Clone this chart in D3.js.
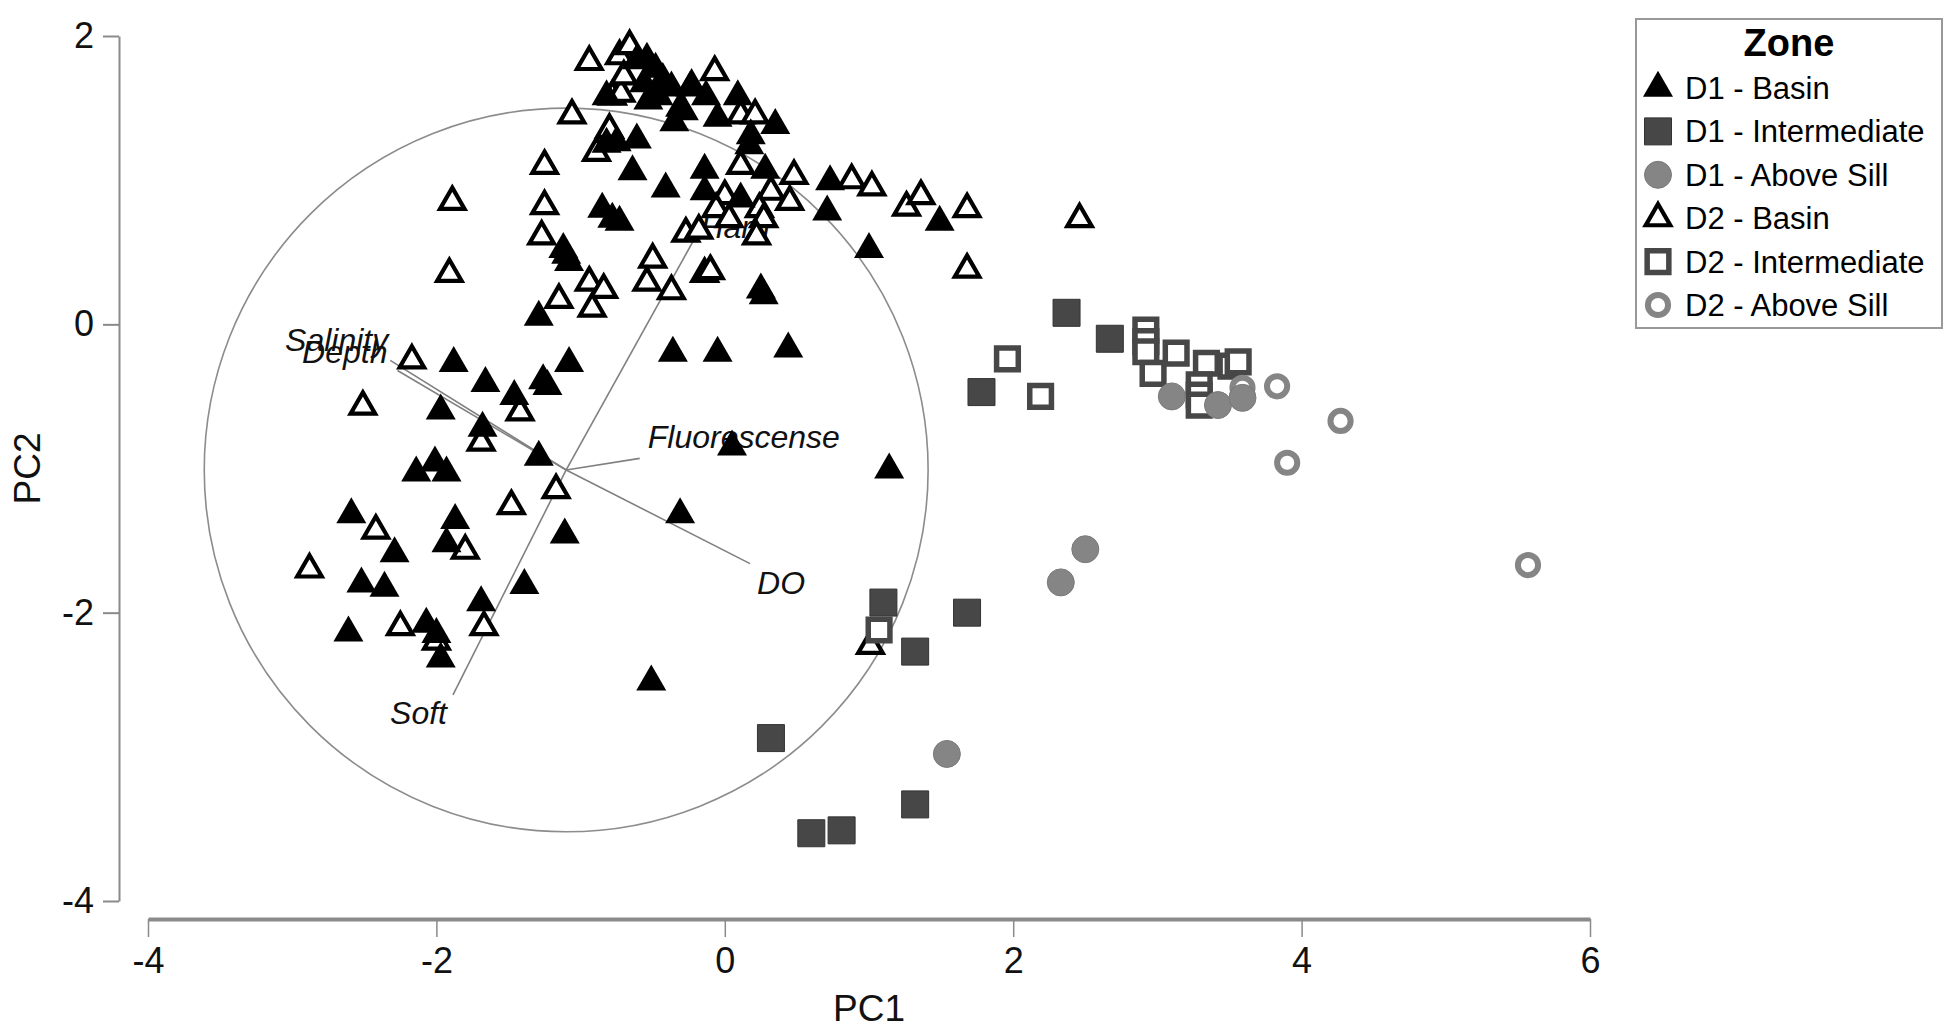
<!DOCTYPE html>
<html>
<head>
<meta charset="utf-8">
<script src="https://cdn.jsdelivr.net/npm/d3@7"></script>
<style>
  body { margin: 0; background: #fff; }
  text { font-family: "Liberation Sans", Arial, Helvetica, sans-serif; }
</style>
</head>
<body>
<div id="chart"></div>
<script>
// PCA scores, [PC1, PC2]
const d1Basin = [
  [-0.61, 1.83], [-0.54, 1.84], [-0.48, 1.77], [-0.43, 1.70], [-0.56, 1.67], [-0.46, 1.58], [-0.37, 1.64], [-0.53, 1.55],
  [-0.24, 1.64], [-0.31, 1.50], [-0.82, 1.58], [-0.82, 1.25],
  [-0.35, 1.40], [-0.13, 1.58], [-0.05, 1.43], [0.09, 1.58], [0.35, 1.38], [0.18, 1.31], [0.17, 1.24],
  [-0.75, 1.26], [-0.61, 1.28], [-0.64, 1.06], [-0.41, 0.94], [-0.14, 1.07], [-0.14, 0.92], [0.28, 1.07], [0.11, 0.87],
  [0.73, 0.99], [0.71, 0.78], [1.49, 0.71], [1.00, 0.52], [0.25, 0.24], [0.27, 0.20], [-0.05, -0.20], [-0.36, -0.20], [0.44, -0.17],
  [-0.85, 0.80], [-0.78, 0.73], [-0.73, 0.71], [-1.12, 0.52], [-1.10, 0.48], [-1.08, 0.43], [-1.29, 0.05],
  [-1.88, -0.27], [-1.66, -0.41], [-1.08, -0.27], [-1.23, -0.43], [-1.26, -0.39], [-1.46, -0.50], [-1.97, -0.60], [-1.68, -0.72],
  [-1.29, -0.92], [-2.01, -0.96], [-2.14, -1.03], [-1.93, -1.03], [-0.31, -1.32], [-2.59, -1.32], [-1.87, -1.36], [-1.93, -1.52],
  [-2.29, -1.59], [-1.11, -1.46], [-2.52, -1.80], [-2.36, -1.83], [-1.39, -1.81], [-2.61, -2.14], [-2.07, -2.08], [-2.00, -2.15],
  [-1.97, -2.32], [-1.69, -1.93], [-0.51, -2.48], [0.05, -0.85], [1.14, -1.01]
];
const d1Intermediate = [
  [2.37, 0.08], [2.67, -0.10], [1.78, -0.47], [1.10, -1.93], [1.32, -2.27], [1.68, -2.00],
  [0.32, -2.87], [1.32, -3.33], [0.60, -3.53], [0.81, -3.51]
];
const d1AboveSill = [
  [3.10, -0.50], [3.42, -0.56], [3.59, -0.51], [2.50, -1.56], [2.33, -1.79], [1.54, -2.98]
];
const d2Basin = [
  [-0.94, 1.82], [-0.73, 1.86], [-0.66, 1.93], [-0.78, 1.58], [-0.72, 1.60], [-0.70, 1.72], [-0.07, 1.75], [-0.23, 1.65], [-0.29, 1.48],
  [-1.06, 1.45], [-0.80, 1.35], [-0.89, 1.19], [-1.25, 1.10], [-1.89, 0.85], [-1.25, 0.82], [-1.27, 0.61],
  [-0.94, 0.29], [-0.84, 0.24], [-1.15, 0.17], [-0.92, 0.11], [-0.50, 0.45], [-0.54, 0.29], [-0.37, 0.23], [-0.27, 0.63], [-0.18, 0.65],
  [-0.14, 0.35], [-1.91, 0.35], [-2.17, -0.25], [-2.51, -0.57], [-1.42, -0.61],
  [0.11, 1.45], [0.21, 1.45], [0.11, 1.10], [0.48, 1.03], [0.88, 1.00], [1.02, 0.95], [0.00, 0.89], [-0.06, 0.80], [0.32, 0.92],
  [0.45, 0.85], [0.24, 0.80], [0.03, 0.73], [0.27, 0.73], [1.26, 0.81], [1.36, 0.89], [1.68, 0.80], [2.46, 0.73], [1.68, 0.38],
  [-0.10, 0.37], [0.22, 0.61],
  [-1.69, -0.82], [-1.17, -1.15], [-1.48, -1.26], [-2.42, -1.43], [-1.80, -1.57], [-2.88, -1.70], [-2.25, -2.10], [-2.00, -2.20],
  [-1.67, -2.10], [1.01, -2.23]
];
const d2Intermediate = [
  [1.96, -0.24], [2.19, -0.50], [2.92, -0.04], [2.92, -0.12], [2.92, -0.19], [2.97, -0.34], [3.13, -0.20], [3.34, -0.27],
  [3.51, -0.29], [3.56, -0.26], [3.29, -0.42], [3.29, -0.49], [3.29, -0.56], [1.07, -2.12]
];
const d2AboveSill = [
  [3.59, -0.44], [3.83, -0.43], [4.27, -0.67], [3.90, -0.96], [5.57, -1.67]
];

const zoneNames = ["D1 - Basin", "D1 - Intermediate", "D1 - Above Sill", "D2 - Basin", "D2 - Intermediate", "D2 - Above Sill"];

// environmental vectors (tips of the loading arrows) and the correlation circle
const vectorNames = ["Salinity", "Depth", "Fluorescense", "DO", "Soft", "Hard"];
const vectorPC1 = [-2.32, -2.27, -0.59, 0.175, -1.885, -0.19];
const vectorPC2 = [-0.25, -0.32, -0.93, -1.66, -2.57, 0.63];
const circleCenter = [-1.10, -1.01];
const circleRadius = 2.51;

const xTicks = [-4, -2, 0, 2, 4, 6];
const yTicks = [-4, -2, 0, 2];

const width = 1951, height = 1036;
const TEXT_COLOR = "#111";
const AXIS_COLOR = "#8a8a8a";

const svg = d3.select("#chart").append("svg")
  .attr("width", width)
  .attr("height", height)
  .style("background", "#fff");

const x = d3.scaleLinear().domain([-4, 6]).range([148, 1590]);
const y = d3.scaleLinear().domain([-4, 2]).range([901, 36]);

// plain hyphen for negatives, like the original figure
const fmt = d => String(d);

// y axis (offset to the left of the x axis start)
const yAxis = svg.append("g")
  .attr("transform", "translate(119,0)")
  .call(d3.axisLeft(y).tickValues(yTicks).tickSize(16).tickSizeOuter(0).tickPadding(9).tickFormat(fmt));
yAxis.select(".domain").attr("stroke", AXIS_COLOR).attr("stroke-width", 2);
yAxis.selectAll(".tick line").attr("stroke", AXIS_COLOR).attr("stroke-width", 2);
yAxis.selectAll(".tick text").attr("fill", TEXT_COLOR).style("font-size", "36px");

// x axis
const xAxis = svg.append("g")
  .attr("transform", "translate(0,919)")
  .call(d3.axisBottom(x).tickValues(xTicks).tickSize(18).tickSizeOuter(0).tickPadding(10).tickFormat(fmt));
xAxis.select(".domain").attr("stroke", AXIS_COLOR).attr("stroke-width", 4);
xAxis.selectAll(".tick line").attr("stroke", AXIS_COLOR).attr("stroke-width", 1.5);
xAxis.selectAll(".tick text").attr("fill", TEXT_COLOR).style("font-size", "36px");

// axis titles
svg.append("text")
  .attr("x", x(1)).attr("y", 1021)
  .attr("text-anchor", "middle")
  .attr("fill", TEXT_COLOR)
  .style("font-size", "37px")
  .text("PC1");

svg.append("text")
  .attr("transform", "translate(40," + y(-1) + ") rotate(-90)")
  .attr("text-anchor", "middle")
  .attr("fill", TEXT_COLOR)
  .style("font-size", "37px")
  .text("PC2");

// correlation circle
const r = x(circleRadius) - x(0);
svg.append("ellipse")
  .attr("cx", x(circleCenter[0]))
  .attr("cy", y(circleCenter[1]))
  .attr("rx", r)
  .attr("ry", y(0) - y(circleRadius))
  .attr("fill", "none")
  .attr("stroke", "#8c8c8c")
  .attr("stroke-width", 1.6);

// loading vectors
const vectors = vectorNames.map((name, i) => ({ name, pc1: vectorPC1[i], pc2: vectorPC2[i] }));
const labelOffset = {
  "Salinity": [-2, -9, "end"],
  "Depth": [-10, -7, "end"],
  "Fluorescense": [8, -10, "start"],
  "DO": [7, 30, "start"],
  "Soft": [-6, 29, "end"],
  "Hard": [3, 4, "start"]
};

const bip = svg.append("g");
bip.selectAll("line")
  .data(vectors)
  .enter().append("line")
  .attr("x1", x(circleCenter[0]))
  .attr("y1", y(circleCenter[1]))
  .attr("x2", d => x(d.pc1))
  .attr("y2", d => y(d.pc2))
  .attr("stroke", "#808080")
  .attr("stroke-width", 1.6);

bip.selectAll("text")
  .data(vectors)
  .enter().append("text")
  .attr("x", d => x(d.pc1) + labelOffset[d.name][0])
  .attr("y", d => y(d.pc2) + labelOffset[d.name][1])
  .attr("text-anchor", d => labelOffset[d.name][2])
  .attr("fill", TEXT_COLOR)
  .style("font-size", "32px")
  .style("font-style", "italic")
  .text(d => d.name);

// marker styles per zone
const zoneStyle = [
  { type: d3.symbolTriangle, size: 390, fill: "#000", stroke: "none", sw: 0 },
  { type: d3.symbolSquare, size: 729, fill: "#474747", stroke: "#333", sw: 1 },
  { type: d3.symbolCircle, size: 573, fill: "#858585", stroke: "#7a7a7a", sw: 1 },
  { type: d3.symbolTriangle, size: 260, fill: "#fff", stroke: "#000", sw: 4.2 },
  { type: d3.symbolSquare, size: 470, fill: "#fff", stroke: "#474747", sw: 5.5 },
  { type: d3.symbolCircle, size: 320, fill: "#fff", stroke: "#858585", sw: 6 }
];
const zoneData = [d1Basin, d1Intermediate, d1AboveSill, d2Basin, d2Intermediate, d2AboveSill];

// drawing order: open triangles first, filled triangles on top, then the gray groups
const drawOrder = [3, 0, 1, 4, 5, 2];

drawOrder.forEach(k => {
  const st = zoneStyle[k];
  svg.append("g")
    .selectAll("path")
    .data(zoneData[k])
    .enter().append("path")
    .attr("transform", d => "translate(" + x(d[0]) + "," + y(d[1]) + ")")
    .attr("d", d3.symbol().type(st.type).size(st.size))
    .attr("fill", st.fill)
    .attr("stroke", st.stroke)
    .attr("stroke-width", st.sw)
    .attr("stroke-linejoin", "miter");
});

// legend
const legend = svg.append("g");
legend.append("rect")
  .attr("x", 1636).attr("y", 19)
  .attr("width", 306).attr("height", 309)
  .attr("fill", "#fff")
  .attr("stroke", "#999")
  .attr("stroke-width", 2);

legend.append("text")
  .attr("x", 1789).attr("y", 56)
  .attr("text-anchor", "middle")
  .attr("fill", "#000")
  .style("font-size", "38px")
  .style("font-weight", "bold")
  .text("Zone");

const rowY = d3.scalePoint().domain(zoneNames).range([88, 305]);

const item = legend.selectAll("g.item")
  .data(zoneNames)
  .enter().append("g")
  .attr("class", "item")
  .attr("transform", d => "translate(1658," + rowY(d) + ")");

item.append("path")
  .attr("d", (d, i) => d3.symbol().type(zoneStyle[i].type).size(zoneStyle[i].size)())
  .attr("fill", (d, i) => zoneStyle[i].fill)
  .attr("stroke", (d, i) => zoneStyle[i].stroke)
  .attr("stroke-width", (d, i) => zoneStyle[i].sw);

item.append("text")
  .attr("x", 27)
  .attr("y", 11)
  .attr("fill", "#000")
  .style("font-size", "31px")
  .text(d => d);
</script>
</body>
</html>
